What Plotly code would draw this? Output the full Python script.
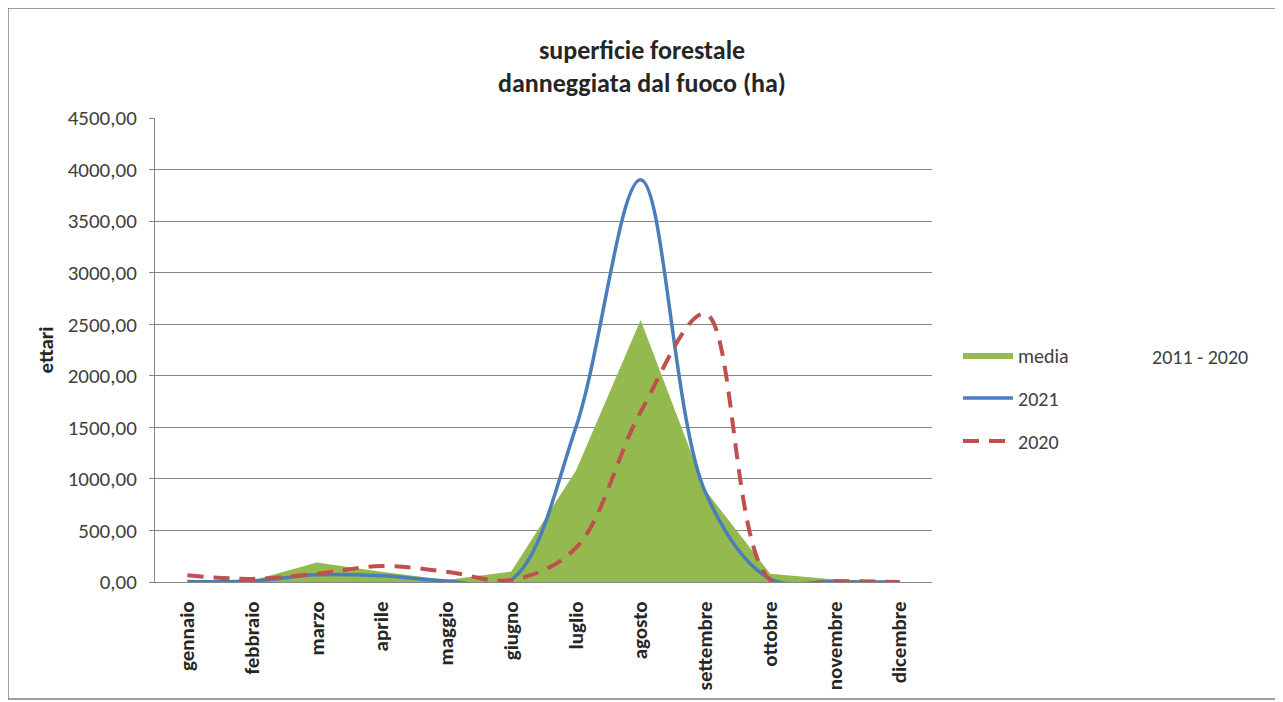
import plotly.graph_objects as go

months = ["gennaio", "febbraio", "marzo", "aprile", "maggio", "giugno",
          "luglio", "agosto", "settembre", "ottobre", "novembre", "dicembre"]
media = [10, 15, 190, 100, 20, 100, 1080, 2540, 890, 80, 25, 5]
y2021 = [5, 10, 70, 60, 10, 20, 1500, 3900, 870, 30, 5, 0]
y2020 = [65, 30, 80, 155, 100, 20, 330, 1650, 2600, 20, 10, 0]

FONT = "Carlito, Lato, Liberation Sans, sans-serif"

W, H = 1275, 694
L, T = 147, 110
PW, PH = 777, 464
R = W - L - PW
B = H - T - PH


def px(xp):
    return (xp - 8 - L) / PW


def py(yp):
    return (T + PH - (yp - 8)) / PH


fig = go.Figure()
fig.add_trace(go.Scatter(x=months, y=media, name="media", mode="lines",
                         fill="tozeroy", fillcolor="#93B94F",
                         line=dict(width=0, color="#93B94F"),
                         legendgroup="a"))
fig.add_trace(go.Scatter(x=months, y=y2021, name="2021", mode="lines",
                         line=dict(color="#4A7EBB", width=3.5, shape="spline", smoothing=1),
                         legendgroup="b"))
fig.add_trace(go.Scatter(x=months, y=y2020, name="2020", mode="lines",
                         line=dict(color="#C0504D", width=4, dash="16px,10px",
                                   shape="spline", smoothing=1),
                         legendgroup="c"))

fig.update_layout(
    width=W, height=H,
    margin=dict(l=L, r=R, t=T, b=B),
    paper_bgcolor="white", plot_bgcolor="white",
    separators=",.",
    font=dict(family=FONT, color="#404040", size=20),
    title=dict(text="<b>superficie forestale<br>danneggiata dal fuoco (ha)</b>",
               x=(642 - 8) / W, xanchor="center", y=1 - (58.5 - 8) / H, yanchor="middle",
               font=dict(size=26, color="#262626", family=FONT)),
    showlegend=True,
    legend=dict(x=px(958), xanchor="left", y=py(398), yanchor="middle",
                font=dict(size=20, color="#404040", family=FONT),
                tracegroupgap=14, itemwidth=50, bgcolor="rgba(0,0,0,0)"),
    xaxis=dict(type="category", range=[-0.5, 11.5], tickangle=-90,
               showline=True, linecolor="#868686", linewidth=1,
               showgrid=False, ticks="", ticklabelstandoff=10,
               tickfont=dict(size=21, color="#262626", family=FONT),
               tickprefix="<b>", ticksuffix="</b>"),
    yaxis=dict(range=[0, 4500], dtick=500, tickformat=".2f",
               showline=True, linecolor="#868686", linewidth=1,
               showgrid=True, gridcolor="#868686", gridwidth=1,
               ticks="outside", ticklen=5, tickcolor="#868686",
               ticklabelstandoff=8,
               tickfont=dict(size=21, color="#404040", family=FONT),
               title=dict(text="<b>ettari</b>", font=dict(size=21, color="#262626", family=FONT),
                          standoff=8),
               zeroline=False),
)

fig.add_annotation(text="2011 - 2020", xref="paper", yref="paper",
                   x=px(1200), y=py(357),
                   xanchor="center", yanchor="middle", showarrow=False,
                   font=dict(size=20, color="#404040", family=FONT))

fig.add_shape(type="rect", xref="paper", yref="paper",
              x0=px(8), x1=px(1276), y0=py(699), y1=py(8),
              line=dict(color="#7F7F7F", width=1.5), fillcolor="rgba(0,0,0,0)", layer="below")

fig.write_html("out.html")
